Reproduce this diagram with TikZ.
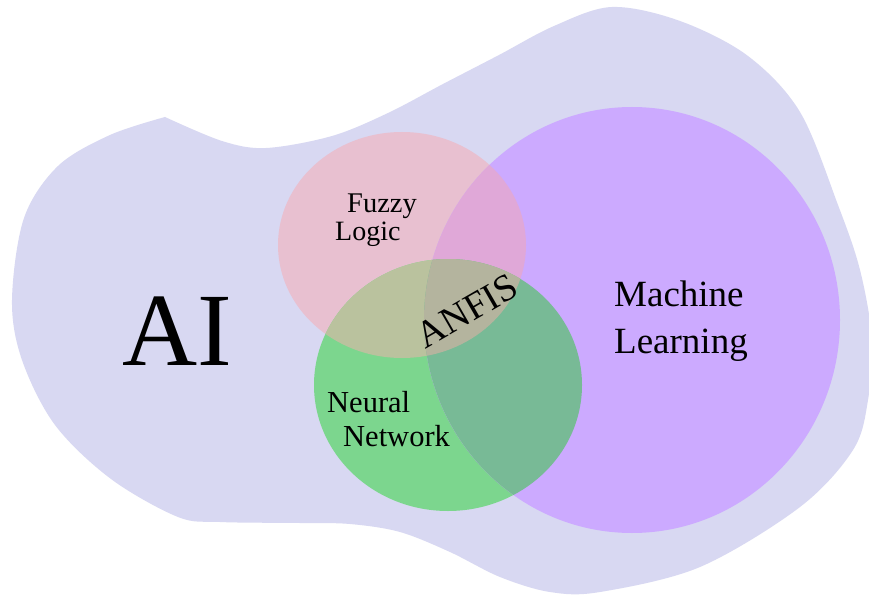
\documentclass[tikz,border=0pt]{standalone}
\usepackage{fontspec}
\setmainfont{Liberation Serif}
\definecolor{aiback}{HTML}{D8D8F2}
\definecolor{fuzzyc}{HTML}{E8C0D0}
\definecolor{neuralc}{HTML}{7CD68E}
\definecolor{mlc}{HTML}{CCAAFF}
\definecolor{fuzzymlc}{HTML}{E0A8D8}
\definecolor{fuzzynnc}{HTML}{BAC29E}
\definecolor{nnmlc}{HTML}{78BA96}
\definecolor{anfisc}{HTML}{B4B49E}
\tikzset{
  lbl/.style={inner sep=0pt, anchor=base west, text=black},
}
\newcommand{\fuzzyset}{(402,245) ellipse [x radius=124pt, y radius=113pt]}
\newcommand{\neuralset}{(448,385) ellipse [x radius=134pt, y radius=126pt]}
\newcommand{\mlset}{(632,320) ellipse [x radius=208pt, y radius=213pt]}
\begin{document}
\begin{tikzpicture}[x=1pt,y=-1pt]
\fill[white] (0,0) rectangle (869,596);
\useasboundingbox (0,0) rectangle (869,596);
% the AI region
\fill[aiback] plot[smooth, tension=0.55] coordinates {
  (165,117) (222,141) (266,148) (332,136) (388,113) (443,84) (499,55)
  (554,26) (612,7) (680,21) (748,56) (800,112) (838,205) (860,270)
  (872,340) (868,400) (853,450) (800,507) (700,567) (600,592) (550,592)
  (500,577) (450,552) (400,532) (350,524) (300,523) (220,522) (178,517)
  (111,479) (55,425) (22,360) (12,300) (24,218) (58,166) (110,135) (165,117)
} -- cycle;
% the three sets
\fill[fuzzyc] \fuzzyset;
\fill[neuralc] \neuralset;
\fill[mlc] \mlset;
% overlaps
\begin{scope}
  \clip \fuzzyset;
  \fill[fuzzymlc] \mlset;
\end{scope}
\begin{scope}
  \clip \fuzzyset;
  \fill[fuzzynnc] \neuralset;
\end{scope}
\begin{scope}
  \clip \neuralset;
  \fill[nnmlc] \mlset;
\end{scope}
\begin{scope}
  \clip \fuzzyset;
  \clip \neuralset;
  \fill[anfisc] \mlset;
\end{scope}
% labels
\node[lbl, font=\fontsize{104}{110}\selectfont] (ai) at (122,365) {AI};
\node[lbl, font=\fontsize{28.5}{30}\selectfont] (fuzzy) at (347,212) {Fuzzy};
\node[lbl, font=\fontsize{28}{30}\selectfont] (logic) at (335,240) {Logic};
\node[lbl, font=\fontsize{30.5}{34}\selectfont] (neural) at (327,412) {Neural};
\node[lbl, font=\fontsize{30.5}{34}\selectfont] (network) at (343,446) {Network};
\node[lbl, font=\fontsize{37}{40}\selectfont] (machine) at (614,306) {Machine};
\node[lbl, font=\fontsize{37}{40}\selectfont] (learning) at (614,353) {Learning};
\node[inner sep=0pt, rotate=30, font=\fontsize{38}{40}\selectfont] (anfis) at (467,311) {ANFIS};
\end{tikzpicture}
\end{document}
